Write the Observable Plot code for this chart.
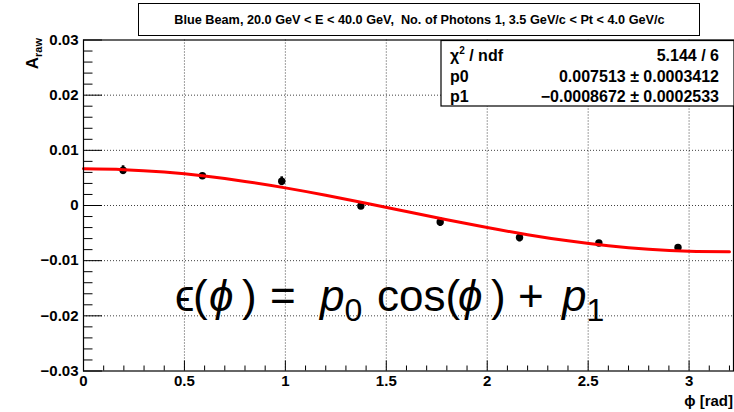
<!DOCTYPE html>
<html><head><meta charset="utf-8">
<script src="https://cdn.jsdelivr.net/npm/d3@7"></script>
<script src="https://cdn.jsdelivr.net/npm/@observablehq/plot@0.6"></script>
<style>
body{margin:0;background:#fff;}
#chart{width:734px;height:412px;}
</style></head><body><div id="chart"></div>
<script>
// ---- data ----
const phiCenters = [0.196, 0.589, 0.982, 1.374, 1.767, 2.160, 2.553, 2.945];
const asym       = [0.0064, 0.0054, 0.0044, -0.0001, -0.0030, -0.0058, -0.0068, -0.0076];
const asymErr    = [0.0008, 0.0003, 0.0008, 0.0006, 0.0008, 0.0008, 0.0002, 0.0002];
// fit curve p0*cos(phi)+p1 sampled values
const fitPhi = [0, 0.2, 0.4, 0.6, 0.8, 1.0, 1.2, 1.4, 1.6, 1.8, 2.0, 2.2, 2.4, 2.6, 2.8, 3.0, 3.2];
const fitVal = [0.006646, 0.006496, 0.006053, 0.005334, 0.004367, 0.003192, 0.001855, 0.000410,
                -0.001086, -0.002574, -0.003994, -0.005288, -0.006407, -0.007305, -0.007946, -0.008305, -0.008367];
const xTickValues = [0, 0.5, 1, 1.5, 2, 2.5, 3];
const xTickLabels = ["0", "0.5", "1", "1.5", "2", "2.5", "3"];
const yTickValues = [-0.03, -0.02, -0.01, 0, 0.01, 0.02, 0.03];
const yTickLabels = ["\u22120.03", "\u22120.02", "\u22120.01", "0", "0.01", "0.02", "0.03"];
const titleText = "Blue Beam, 20.0 GeV < E < 40.0 GeV,  No. of Photons 1, 3.5 GeV/c < Pt < 4.0 GeV/c";
const statLabels = ["/ ndf", "p0", "p1"];
const statValues = ["5.144 / 6", "0.007513 \u00b1 0.0003412", "\u22120.0008672 \u00b1 0.0002533"];
const xLabel = "\u03d5 [rad]";

// ---- layout ----
const W = 734, H = 412, mL = 83, mR = 1, mT = 39.5, mB = 41.5;
const fw = W - mL - mR, fh = H - mT - mB;
const points = phiCenters.map((x, i) => ({x, y: asym[i], e: asymErr[i]}));
const fit = fitPhi.map((x, i) => ({x, y: fitVal[i]}));
const xMinor = d3.range(0.1, 3.22, 0.1).filter(v => Math.abs(v * 2 - Math.round(v * 2)) > 1e-6);
const yMinor = d3.range(-0.028, 0.0295, 0.002).filter(v => Math.abs(v * 100 - Math.round(v * 100)) > 1e-6);

const svg = Plot.plot({
  width: W, height: H,
  marginLeft: mL, marginRight: mR, marginTop: mT, marginBottom: mB,
  style: {fontFamily: "'Liberation Sans', Arial, sans-serif", background: "#fff", color: "#000"},
  x: {domain: [0, 3.22]},
  y: {domain: [-0.03, 0.03]},
  marks: [
    Plot.gridX(xTickValues.slice(1), {stroke: "#000", strokeOpacity: 0.75, strokeDasharray: "1,2"}),
    Plot.gridY(yTickValues.slice(1, -1), {stroke: "#000", strokeOpacity: 0.75, strokeDasharray: "1,2"}),
    Plot.tickX(xMinor, {x: d => d, insetTop: fh - 5, stroke: "#000"}),
    Plot.tickX(xTickValues, {x: d => d, insetTop: fh - 10, stroke: "#000"}),
    Plot.tickY(yMinor, {y: d => d, insetRight: fw - 9.5, stroke: "#000"}),
    Plot.tickY(yTickValues, {y: d => d, insetRight: fw - 19, stroke: "#000"}),
    Plot.axisX(xTickValues, {tickSize: 0, tickPadding: 4, fontSize: 15, fontWeight: "bold", label: null,
      tickFormat: d => xTickLabels[xTickValues.indexOf(d)]}),
    Plot.axisY(yTickValues, {tickSize: 0, tickPadding: 5, fontSize: 15, fontWeight: "bold", label: null,
      tickFormat: d => yTickLabels[yTickValues.indexOf(d)]}),
    Plot.ruleX(points, {x: "x", y1: d => d.y - d.e, y2: d => d.y + d.e, stroke: "#000", strokeWidth: 2.6}),
    Plot.dot(points, {x: "x", y: "y", r: 3.7, fill: "#000", stroke: null}),
    Plot.line(fit, {x: "x", y: "y", stroke: "#ff0000", strokeWidth: 3, curve: "natural"}),
    Plot.frame({stroke: "#000", strokeWidth: 1.2})
  ]
});

const s = d3.select(svg);
const FONT = "'Liberation Sans', Arial, sans-serif";

// title box
s.append("rect").attr("x", 138.5).attr("y", 3.5).attr("width", 561).attr("height", 32)
  .attr("fill", "#fff").attr("stroke", "#000").attr("stroke-width", 1);
s.append("text").attr("x", 419.5).attr("y", 23.5).attr("text-anchor", "middle")
  .attr("font-family", FONT).attr("font-weight", "bold").attr("font-size", 12.7)
  .attr("xml:space", "preserve").style("white-space", "pre").text(titleText);

// stat box
s.append("rect").attr("x", 441).attr("y", 40.5).attr("width", 293).attr("height", 65.5)
  .attr("fill", "#fff").attr("stroke", "#000").attr("stroke-width", 1.2);
const rowsY = [60.5, 81.5, 102];
const st = s.append("g").attr("font-family", FONT).attr("font-weight", "bold").attr("font-size", 16)
  .attr("text-anchor", "start");
const chi = st.append("text").attr("x", 450).attr("y", rowsY[0]).attr("text-anchor", "start");
chi.append("tspan").text("\u03c7");
chi.append("tspan").attr("dy", -7).attr("font-size", 10).text("2");
chi.append("tspan").attr("dy", 7).text(" " + statLabels[0]);
st.append("text").attr("x", 450).attr("y", rowsY[1]).attr("text-anchor", "start").text(statLabels[1]);
st.append("text").attr("x", 450).attr("y", rowsY[2]).attr("text-anchor", "start").text(statLabels[2]);
statValues.forEach((v, i) => st.append("text").attr("x", 719).attr("y", rowsY[i]).attr("text-anchor", "end").text(v));

// axis titles
const yl = s.append("text").attr("transform", "translate(38,38) rotate(-90)").attr("text-anchor", "end")
  .attr("font-family", FONT).attr("font-weight", "bold").attr("font-size", 17);
yl.append("tspan").text("A");
yl.append("tspan").attr("dy", 4).attr("font-size", 11).text("raw");
s.append("text").attr("x", 733).attr("y", 406).attr("text-anchor", "end")
  .attr("font-family", FONT).attr("font-weight", "bold").attr("font-size", 15).text(xLabel);

// formula  ϵ(ϕ) = p0 cos(ϕ) + p1
const EQ_BASE = 311, SUB = 10;
const eq = s.append("text").attr("x", 175).attr("y", EQ_BASE).attr("text-anchor", "start")
  .attr("font-family", "'Liberation Sans', 'DejaVu Sans', sans-serif").attr("font-size", 44)
  .attr("xml:space", "preserve").style("white-space", "pre");
eq.append("tspan").attr("x", 175).text("\u03f5");
eq.append("tspan").attr("x", 193).text("(");
eq.append("tspan").attr("x", 209).attr("font-style", "italic").text("\u03d5");
eq.append("tspan").attr("x", 242).text(")");
eq.append("tspan").attr("x", 270).text("=");
eq.append("tspan").attr("x", 320).attr("font-style", "italic").text("p");
eq.append("tspan").attr("dy", SUB).attr("font-size", 32).text("0");
eq.append("tspan").attr("x", 377).attr("dy", -SUB).text("cos(");
eq.append("tspan").attr("x", 458).attr("font-style", "italic").text("\u03d5");
eq.append("tspan").attr("x", 491).text(")");
eq.append("tspan").attr("x", 518).text("+");
eq.append("tspan").attr("x", 562).attr("font-style", "italic").text("p");
eq.append("tspan").attr("dy", SUB).attr("font-size", 32).text("1");

document.getElementById("chart").appendChild(svg);
</script>
</body></html>
